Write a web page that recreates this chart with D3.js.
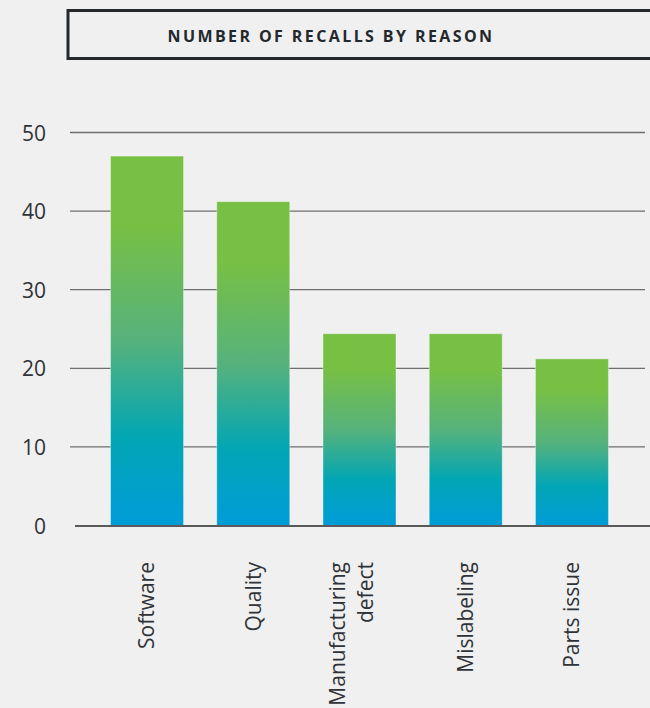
<!DOCTYPE html>
<html>
<head>
<meta charset="utf-8">
<script src="https://cdn.jsdelivr.net/npm/d3@7"></script>
<style>
  html, body { margin: 0; padding: 0; background: #f0f0f0; }
  svg { display: block; }
</style>
</head>
<body>
<svg id="chart" width="650" height="708"></svg>
<script>
const categories = ["Software", "Quality", "Manufacturing\ndefect", "Mislabeling", "Parts issue"];
const values = [47, 41.2, 24.4, 24.4, 21.2];
const yTicks = [0, 10, 20, 30, 40, 50];
const title = "NUMBER OF RECALLS BY REASON";

const svg = d3.select("#chart");
const W = 650, H = 708;
svg.append("rect").attr("width", W).attr("height", H).attr("fill", "#f0f0f0");

// Title box
svg.append("rect")
  .attr("x", 68).attr("y", 10.5).attr("width", 600).attr("height", 48)
  .attr("fill", "none").attr("stroke", "#23282d").attr("stroke-width", 3);
svg.append("text")
  .attr("x", 331).attr("y", 42)
  .attr("text-anchor", "middle")
  .attr("font-family", "'Open Sans', sans-serif")
  .attr("font-weight", 700)
  .attr("font-size", 16)
  .attr("letter-spacing", 2.4)
  .attr("fill", "#23282d")
  .text(title);

const x = d3.scaleBand().domain(categories).range([74, 645]).paddingInner(0.313).paddingOuter(0.344);
const y = d3.scaleLinear().domain([0, 50]).range([525.5, 132.5]);

// gradient
const defs = svg.append("defs");
const grad = defs.append("linearGradient").attr("id", "barGrad")
  .attr("x1", 0).attr("y1", 0).attr("x2", 0).attr("y2", 1);
[[0, "#78c043"], [0.18, "#78c043"], [0.5, "#56b27c"], [0.76, "#02a6b4"], [1, "#009cd9"]]
  .forEach(([o, c]) => grad.append("stop").attr("offset", o).attr("stop-color", c));

// gridlines
const yAxis = d3.axisLeft(y).tickValues(yTicks).tickSize(0).tickPadding(0);
svg.append("g").selectAll("line.grid").data(yTicks.filter(d => d > 0)).join("line")
  .attr("x1", 70).attr("x2", 645)
  .attr("y1", d => y(d)).attr("y2", d => y(d))
  .attr("stroke", "#6e6e6e").attr("stroke-width", 1.3);

// y axis labels
const ya = svg.append("g").attr("transform", "translate(46,0)").call(yAxis);
ya.select(".domain").remove();
ya.selectAll("text")
  .attr("font-family", "'Open Sans', sans-serif")
  .attr("font-size", 21)
  .attr("fill", "#2f3236")
  .attr("dy", "0.36em");

// bars
svg.append("g").selectAll("rect").data(values).join("rect")
  .attr("x", (d, i) => x(categories[i]))
  .attr("width", x.bandwidth())
  .attr("y", d => y(d))
  .attr("height", d => y(0) - y(d))
  .attr("fill", "url(#barGrad)")
  .attr("stroke", "rgba(255,255,255,0.35)")
  .attr("stroke-width", 1);

// baseline
svg.append("line").attr("x1", 75).attr("x2", 650)
  .attr("y1", y(0) + 0.5).attr("y2", y(0) + 0.5)
  .attr("stroke", "#5a5a5a").attr("stroke-width", 2);

// x labels
const fs = 21;
const xa = svg.append("g");
categories.forEach((c, i) => {
  const lines = c.split("\n");
  const cx = x(c) + x.bandwidth() / 2;
  const t = xa.append("text")
    .attr("transform", `translate(${cx},562) rotate(-90)`)
    .attr("text-anchor", "end")
    .attr("font-family", "'Open Sans', sans-serif")
    .attr("font-size", fs)
    .attr("fill", "#2f3236");
  const n = lines.length;
  lines.forEach((l, j) => {
    const first = n === 1 ? 0.35 : (0.35 - 22 / fs);
    t.append("tspan").attr("x", 0)
      .attr("dy", j === 0 ? `${first}em` : `${28 / fs}em`)
      .text(l);
  });
});
</script>
</body>
</html>
